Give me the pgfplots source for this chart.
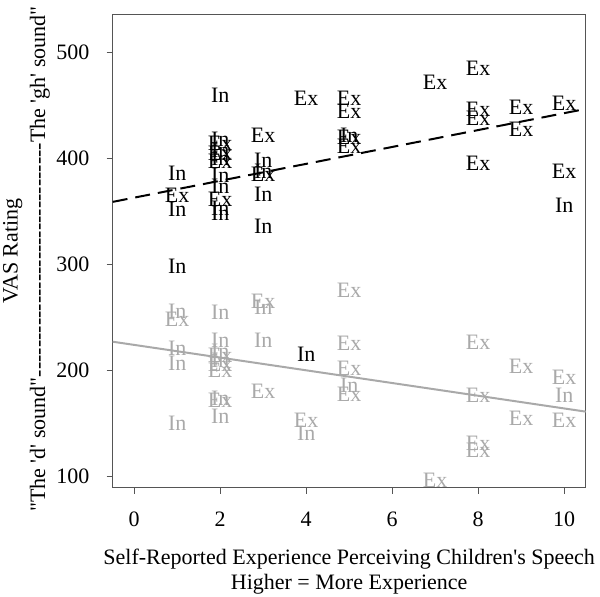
\documentclass[border=0pt]{standalone}
\usepackage{fontspec}
\setmainfont{Liberation Serif}[Ligatures=TeXOff]
\usepackage{pgfplots}
\pgfplotsset{compat=1.18}
\definecolor{lg}{RGB}{169,169,169}
\definecolor{axc}{RGB}{85,85,85}
\newcommand{\fs}{\fontsize{22}{26}\selectfont}
\pgfplotsset{
  lab/.style 2 args={only marks, mark=text, text mark={#1}, text mark as node=true,
    text mark style={font=\fs, anchor=center, inner sep=0pt, text=#2}},
}
\begin{document}
\begin{tikzpicture}
\begin{axis}[at={(0,0)}, anchor=south west, scale only axis,
  width=473pt, height=473.4pt,
  xmin=-0.5, xmax=10.5, ymin=89.6, ymax=535.8,
  clip=false,
  axis line style={axc, line width=1pt},
  xtick={0,2,4,6,8,10}, ytick={100,200,300,400,500},
  xtick pos=bottom, ytick pos=left,
  tick align=outside, major tick length=6pt,
  tick style={axc, line width=1pt},
  ticklabel style={font=\fs},
  /pgf/number format/assume math mode=true,
  xticklabel style={anchor=north, inner sep=0pt},
  xticklabel shift=18pt,
  yticklabel style={anchor=east, inner sep=0pt},
  yticklabel shift=17pt,
]
% regression lines
\addplot[black, line width=2pt, dash pattern=on 15pt off 8pt] coordinates {(-0.5,359) (10.5,446.6)};
\addplot[lg, line width=2pt] coordinates {(-0.5,227.2) (10.5,161.3)};

% black In
\addplot[lab={In}{black}] coordinates {
(1,386) (1,352) (1,298)
(2,459) (2,418) (2,408) (2,400) (2,384) (2,374) (2,353) (2,348)
(3,398) (3,388) (3,366) (3,336)
(4,215)
(5,422)
(10,356)
};
% black Ex
\addplot[lab={Ex}{black}] coordinates {
(1,365)
(2,414) (2,405) (2,397) (2,361)
(3,422) (3,385)
(4,457)
(5,457) (5,444) (5,420) (5,411)
(7,472)
(8,485) (8,446) (8,438) (8,395)
(9,448) (9,427)
(10,452) (10,388)
};
% gray In
\addplot[lab={In}{lg}] coordinates {
(1,256) (1,221) (1,207) (1,150)
(2,255) (2,229) (2,218) (2,210) (2,174) (2,157)
(3,260) (3,229)
(4,141)
(5,186)
(10,177)
};
% gray Ex
\addplot[lab={Ex}{lg}] coordinates {
(1,248)
(2,214) (2,206) (2,200) (2,172)
(3,265) (3,180)
(4,153)
(5,276) (5,226) (5,202) (5,178)
(7,97)
(8,227) (8,177) (8,131) (8,125)
(9,204) (9,155)
(10,194) (10,153)
};

\node[font=\fs, anchor=base] at (axis cs:5,16.8) {Self-Reported Experience Perceiving Children's Speech};
\node[font=\fs, anchor=base] at (axis cs:5,-6.8) {Higher = More Experience};
\node[font=\fs, rotate=90, anchor=center] at (axis cs:-2.823,312.7) {VAS Rating};
\node[font=\fs, rotate=90, anchor=center] at (axis cs:-2.195,305.2) {"The 'd' sound"--------------------------------The 'gh' sound"};
\end{axis}
\pgfresetboundingbox
\path[use as bounding box] (-112.7pt,-109.3pt) rectangle (487.3pt,487.7pt);
\end{tikzpicture}
\end{document}
